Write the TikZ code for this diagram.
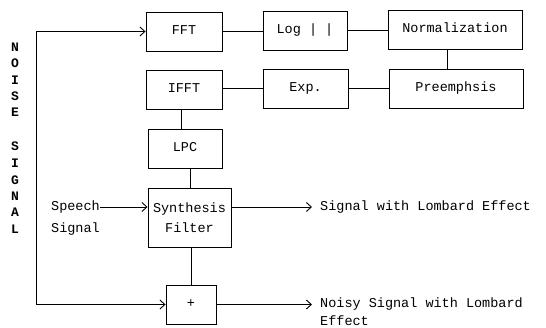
\documentclass[tikz,border=0pt]{standalone}
\usepackage{fontspec}
\setmainfont{Liberation Mono}
\usetikzlibrary{arrows.meta}
\begin{document}
\begin{tikzpicture}[x=1pt,y=-1pt,
  box/.style={draw,line width=0.9pt,inner sep=0pt,minimum height=39pt,align=center},
  onel/.style={text height=9pt,text depth=2.5pt},
  lbl/.style={inner sep=0pt,font=\fontsize{13.5}{20}\selectfont,align=left},
  wire/.style={line width=0.9pt},
  arr/.style={line width=0.9pt,-{Straight Barb[length=5pt,width=9pt,line width=0.9pt]}},
  vl/.style={inner sep=0pt,font=\bfseries\fontsize{13}{14}\selectfont}]
\useasboundingbox (0,0) rectangle (546,328);
\begin{scope}[every node/.append style={font=\fontsize{13.5}{20}\selectfont}]
\node[box,onel,minimum width=76pt] (fft) at (184,31.5) {FFT};
\node[box,onel,minimum width=84pt] (log) at (305,30.5) {Log | |};
\node[box,onel,minimum width=134pt] (norm) at (455,29.5) {Normalization};
\node[box,onel,minimum width=134pt] (pre) at (456,88.5) {Preemphsis};
\node[box,onel,minimum width=85pt] (exp) at (305.5,88.5) {Exp.};
\node[box,onel,minimum width=76pt] (ifft) at (184,89.5) {IFFT};
\node[box,onel,minimum width=74pt] (lpc) at (185,148.5) {LPC};
\node[box,minimum width=83pt,minimum height=59pt] (syn) at (189.5,217.5) {Synthesis\\Filter};
\node[box,onel,minimum width=50pt] (plus) at (191,304.5) {+};
\end{scope}
% chain connections
\draw[wire] (fft.east) -- (fft.east -| log.west);
\draw[wire] (log.east) -- (log.east -| norm.west);
\draw[wire] ([xshift=-8pt]norm.south) -- ([xshift=-8pt]norm.south |- pre.north);
\draw[wire] (pre.west) -- (pre.west -| exp.east);
\draw[wire] (exp.west) -- (exp.west -| ifft.east);
\draw[wire] ([xshift=-3pt]ifft.south) -- ([xshift=-3pt]ifft.south |- lpc.north);
\draw[wire] ([xshift=5pt]lpc.south) -- ([xshift=5pt]lpc.south |- syn.north);
\draw[wire] ([xshift=1.5pt]syn.south) -- ([xshift=1.5pt]syn.south |- plus.north);
% noise signal
\coordinate (ntop) at (36,31.5);
\coordinate (nbot) at (36,304.5);
\draw[wire] (ntop) -- (nbot);
\draw[arr] (ntop) -- (fft.west);
\draw[arr] (nbot) -- (plus.west);
\foreach \ch/\yy in {N/47,O/63,I/80,S/96,E/112,S/146,I/163,G/180,N/196,A/212,L/229}
  \node[vl] at (15,\yy) {\ch};
% speech input
\node[lbl,anchor=east] (s1) at (100,207) {Speech};
\node[lbl,anchor=west] (s2) at (s1.west |- 0,229) {Signal};
\draw[arr] (s1.east) -- (s1.east -| syn.west);
% outputs
\coordinate (o1) at (syn.east |- 0,207);
\node[lbl,anchor=west] (out1) at (320,207) {Signal with Lombard Effect};
\draw[arr] (o1) -- ([xshift=-8pt]out1.west);
\node[lbl,anchor=west] (out2) at (320,304) {Noisy Signal with Lombard};
\node[lbl,anchor=west] (out3) at (320,321) {Effect};
\draw[arr] (plus.east) -- ([xshift=-8pt]plus.east -| out2.west);
\end{tikzpicture}
\end{document}
